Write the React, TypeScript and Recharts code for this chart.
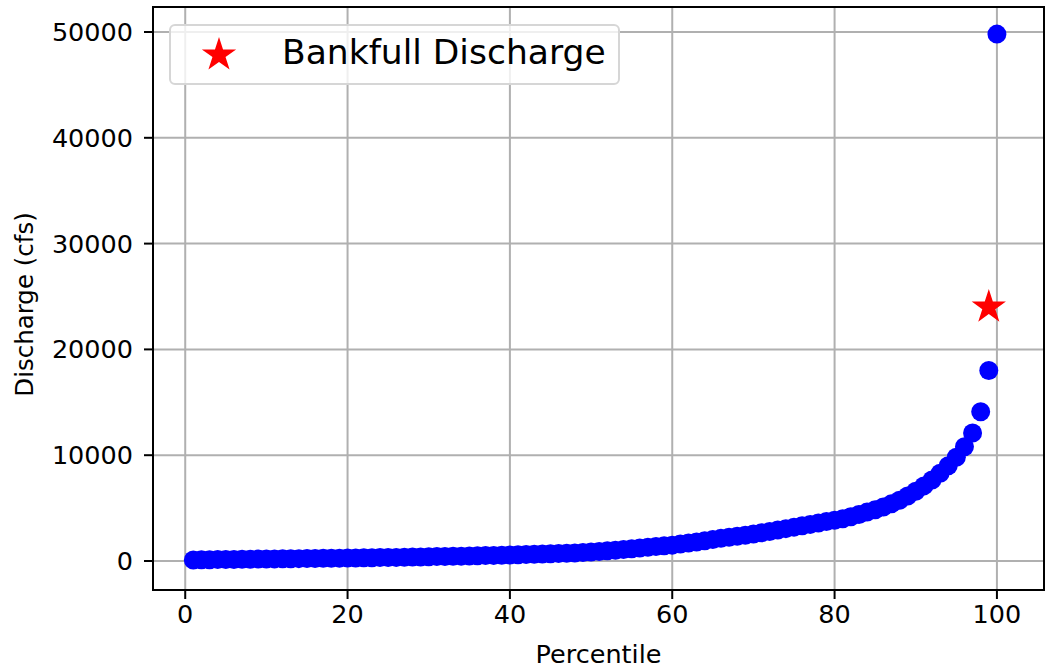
import React from "react";
import {
  CartesianGrid,
  Legend,
  ReferenceArea,
  Scatter,
  ScatterChart,
  XAxis,
  YAxis,
} from "recharts";

// percentile 1..100 -> discharge (cfs)
const percentiles = Array.from({ length: 100 }, (_, i) => i + 1);
const discharge = [
  100, 110, 120, 130, 140, 150, 160, 170, 180, 190,
  200, 208, 216, 224, 232, 240, 250, 260, 270, 280,
  290, 300, 310, 320, 330, 342, 355, 368, 382, 400,
  415, 430, 445, 460, 475, 492, 510, 530, 550, 570,
  590, 610, 632, 655, 680, 705, 730, 760, 800, 850,
  900, 960, 1020, 1090, 1160, 1230, 1290, 1360, 1430, 1500,
  1600, 1700, 1800, 1920, 2040, 2140, 2240, 2340, 2440, 2550,
  2670, 2790, 2920, 3060, 3200, 3330, 3460, 3600, 3730, 3850,
  4000, 4190, 4400, 4620, 4850, 5100, 5400, 5750, 6150, 6600,
  7100, 7650, 8300, 9000, 9800, 10800, 12100, 14100, 18000, 49800,
];
const bankfullX = [99];
const bankfullY = [24000];

const xTicks = [0, 20, 40, 60, 80, 100];
const yTicks = [0, 10000, 20000, 30000, 40000, 50000];
const xDomain: [number, number] = [-3.97, 105.8];
const yDomain: [number, number] = [-2741, 52363];

const points = percentiles.map((p, i) => ({ x: p, y: discharge[i] }));
const bankfull = bankfullX.map((x, i) => ({ x, y: bankfullY[i] }));

const FONT = "DejaVu Sans, sans-serif";

const starPath = (cx: number, cy: number, R: number) => {
  const r = R * 0.381966;
  const pts: string[] = [];
  for (let k = 0; k < 10; k++) {
    const rad = k % 2 === 0 ? R : r;
    const a = (-90 + k * 36) * (Math.PI / 180);
    pts.push(`${cx + rad * Math.cos(a)},${cy + rad * Math.sin(a)}`);
  }
  return pts.join(" ");
};

const Dot = (props: any) => (
  <circle cx={props.cx} cy={props.cy} r={9.5} fill="#0000ff" />
);

const Star = (props: any) => (
  <polygon points={starPath(props.cx, props.cy, 18)} fill="#ff0000" />
);

const LegendBox = () => (
  <div
    style={{
      position: "absolute",
      left: 169,
      top: 24,
      width: 451,
      height: 61,
      border: "2px solid #d6d6d6",
      borderRadius: 6,
      background: "rgba(255,255,255,0.8)",
      boxSizing: "border-box",
      fontFamily: FONT,
      fontSize: 34.5,
      color: "#000",
    }}
  >
    <svg width={40} height={40} style={{ position: "absolute", left: 28, top: 8 }}>
      <polygon points={starPath(20, 21, 18)} fill="#ff0000" />
    </svg>
    <span style={{ position: "absolute", left: 111, top: 6, whiteSpace: "nowrap" }}>
      Bankfull Discharge
    </span>
  </div>
);

export default function App() {
  return (
    <div style={{ position: "absolute", left: 0, top: 0, width: 1046, height: 669, background: "#fff" }}>
      <ScatterChart width={1046} height={669} margin={{ top: 7, right: 2, bottom: 0, left: 0 }}>
        <XAxis
          type="number"
          dataKey="x"
          domain={xDomain}
          ticks={xTicks}
          allowDataOverflow
          height={79}
          axisLine={false}
          tickSize={9}
          tickMargin={6}
          tickLine={{ stroke: "#000", strokeWidth: 2 }}
          tick={{ fill: "#000", fontSize: 25.5, fontFamily: FONT }}
          label={{
            content: (p: any) => (
              <text
                x={p.viewBox.x + p.viewBox.width / 2}
                y={p.viewBox.y + 73}
                textAnchor="middle"
                fontSize={25.5}
                fontFamily={FONT}
                fill="#000"
              >
                Percentile
              </text>
            ),
          }}
        />
        <YAxis
          type="number"
          dataKey="y"
          domain={yDomain}
          ticks={yTicks}
          allowDataOverflow
          width={153}
          axisLine={false}
          tickSize={9}
          tickMargin={11}
          tickLine={{ stroke: "#000", strokeWidth: 2 }}
          tick={{ fill: "#000", fontSize: 25.5, fontFamily: FONT }}
          label={{
            content: (p: any) => {
              const cy = p.viewBox.y + p.viewBox.height / 2 + 6;
              return (
                <text
                  x={33}
                  y={cy}
                  transform={`rotate(-90 33 ${cy})`}
                  textAnchor="middle"
                  fontSize={24.5}
                  fontFamily={FONT}
                  fill="#000"
                >
                  Discharge (cfs)
                </text>
              );
            },
          }}
        />
        <Scatter data={points} shape={<Dot />} isAnimationActive={false} />
        <CartesianGrid stroke="#b0b0b0" strokeWidth={2} horizontalValues={yTicks} verticalValues={xTicks} />
        <Scatter data={bankfull} shape={<Star />} isAnimationActive={false} />
        <ReferenceArea
          x1={xDomain[0]}
          x2={xDomain[1]}
          y1={yDomain[0]}
          y2={yDomain[1]}
          fill="none"
          fillOpacity={0}
          stroke="#000"
          strokeWidth={2}
          ifOverflow="visible"
        />
        <Legend content={() => null} />
      </ScatterChart>
      <LegendBox />
    </div>
  );
}
